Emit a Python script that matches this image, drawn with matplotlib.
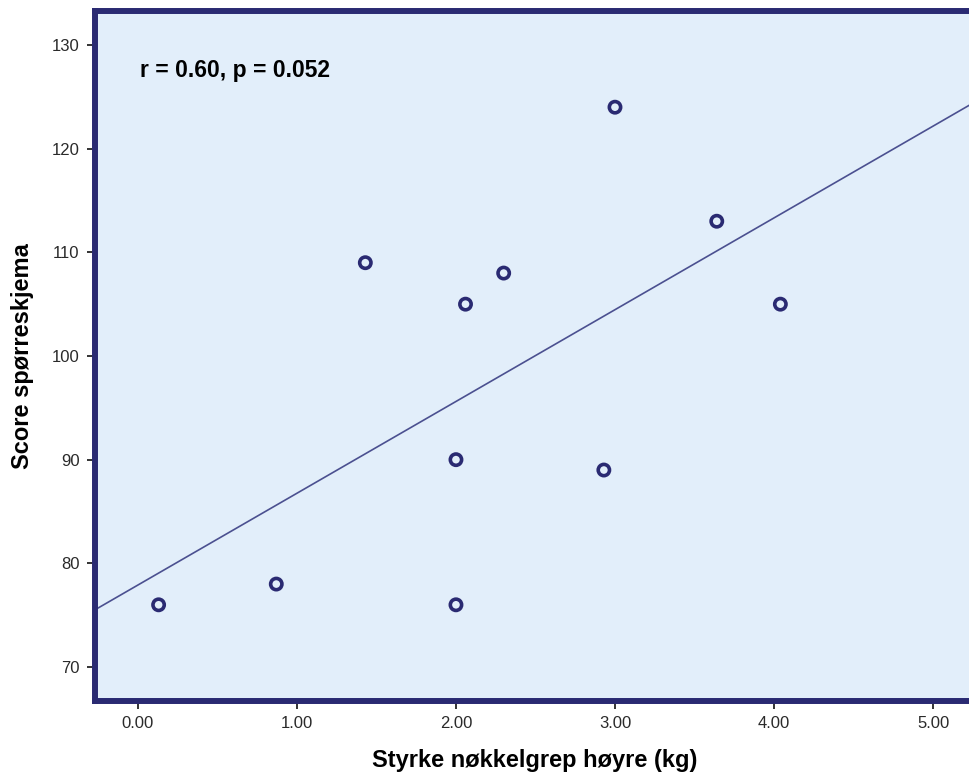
import numpy as np
import matplotlib.pyplot as plt

# Values
grip_strength = [0.13, 0.87, 1.43, 2.00, 2.00, 2.06, 2.30, 2.93, 3.00, 3.64, 4.04]
score = [76, 78, 109, 90, 76, 105, 108, 89, 124, 113, 105]
x_ticks = [0, 1, 2, 3, 4, 5]
y_ticks = [70, 80, 90, 100, 110, 120, 130]
stats_text = "r = 0.60, p = 0.052"

navy = '#2a2a72'
plt.rcParams['font.family'] = ['Liberation Sans', 'DejaVu Sans']

fig = plt.figure(figsize=(9.70, 7.78), dpi=100)
ax = fig.add_axes([95 / 970, 77 / 778, 880 / 970, 690 / 778])
ax.set_facecolor('#e2eefa')

ax.set_xlim(-0.270, 5.264)
ax.set_ylim(66.72, 133.28)

# Fit line over the whole visible x range
slope, intercept = np.polyfit(grip_strength, score, 1)
xs = np.array(ax.get_xlim())
ax.plot(xs, intercept + slope * xs, color='#4b5090', linewidth=1.2, zorder=2)

ax.scatter(grip_strength, score, s=66, facecolors='none', edgecolors=navy,
           linewidths=2.6, zorder=3)

for side in ['left', 'bottom', 'top', 'right']:
    ax.spines[side].set_color(navy)
    ax.spines[side].set_linewidth(4.3)

ax.set_xticks(x_ticks)
ax.set_xticklabels([f"{v:.2f}" for v in x_ticks])
ax.set_yticks(y_ticks)
ax.tick_params(axis='both', direction='out', length=6, width=1.4, color='#333333',
               labelsize=12, labelcolor='#2a2a2a', pad=5)

ax.set_xlabel("Styrke nøkkelgrep høyre (kg)", fontsize=17, fontweight='bold', labelpad=13)
ax.set_ylabel("Score spørreskjema", fontsize=17, fontweight='bold', labelpad=13)

ax.text(0.051, 0.914, stats_text, transform=ax.transAxes, fontsize=16.5,
        fontweight='bold', va='center', ha='left', color='black')

fig.savefig('out.png', dpi=100)
